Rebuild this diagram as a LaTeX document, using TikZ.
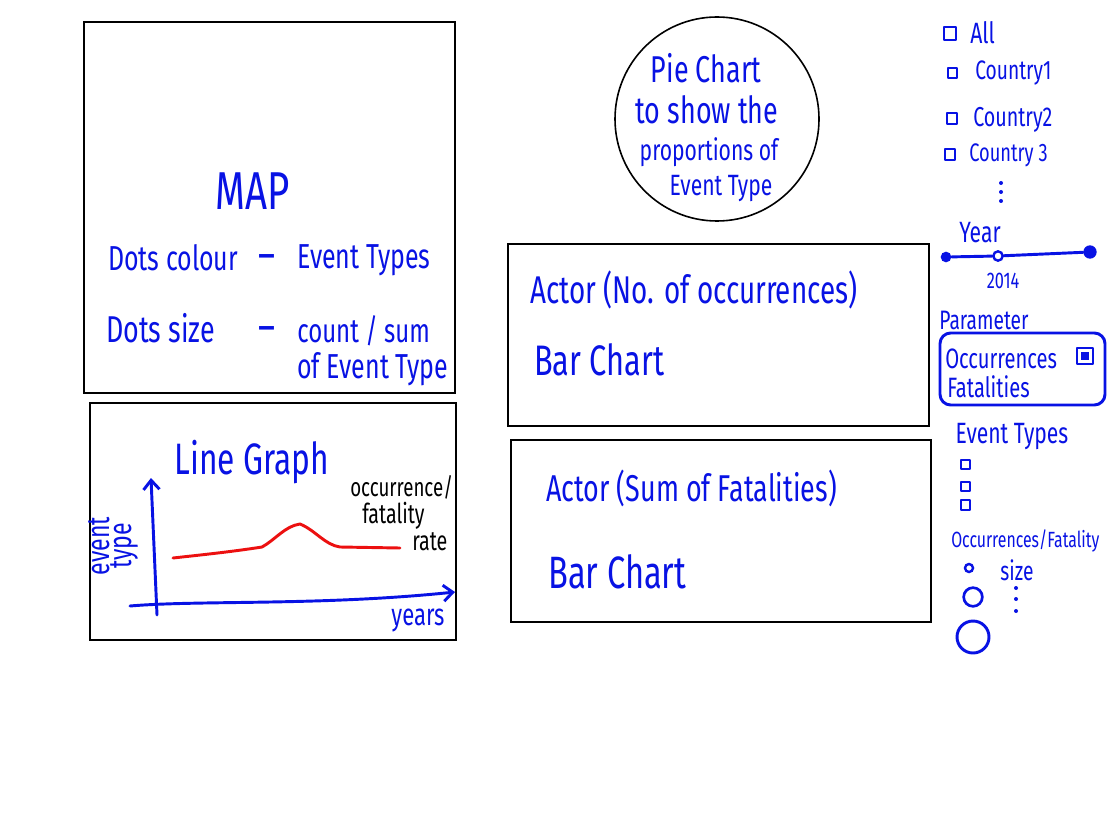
\documentclass[tikz,border=0pt]{standalone}
\usepackage{fontspec}
\setmainfont[FakeStretch=0.72]{Fira Sans}
\usetikzlibrary{arrows.meta}
\definecolor{hblue}{RGB}{8,18,228}
\definecolor{hred}{RGB}{236,16,16}
\tikzset{
  panel/.style={draw=black, line width=1.2pt},
  hw/.style={text=hblue, inner sep=0pt, anchor=center},
  hwl/.style={hw, anchor=west},
  fs/.style={font=\fontsize{#1}{#1}\selectfont},
  pen/.style={draw=hblue, line width=2.2pt, line cap=round, line join=round},
  tick/.style={pen, line width=1.8pt},
}
\begin{document}
\begin{tikzpicture}[x=0.75pt,y=-0.75pt]
\useasboundingbox[fill=white] (0,0) rectangle (1112,834);

% ---- map panel ----
\draw[panel] (84,22) rectangle (455,393);
\node[hw, fs=40] (map) at (253,191) {MAP};
\node[hwl, fs=26] (dc) at (108,258) {Dots colour};
\node[hw, fs=34] (dcdash) at (267,263) {–};
\node[hwl, fs=26] (dct) at (297,260) {Event Types};
\node[hwl, fs=28] (ds) at (106,328) {Dots size};
\node[hw, fs=34] (dsdash) at (267,335) {–};
\node[hwl, fs=25] (dsc) at (297,331) {count / sum};
\node[hwl, fs=26] (dse) at (297,369) {of Event Type};

% ---- line graph panel ----
\draw[panel] (90,403) rectangle (456,640);
\node[hw, fs=33] (lg) at (252,462) {Line Graph};
\coordinate (yb) at (157,615);
\coordinate (yt) at (151,478);
\coordinate (xl) at (130,606);
\coordinate (xr) at (455,592);
\draw[pen, -{Straight Barb[length=7pt,width=12pt]}] (yb) -- (yt);
\draw[pen, -{Straight Barb[length=7pt,width=12pt]}] (xl) .. controls (200,600) and (320,606) .. (xr);
\draw[draw=hred, line width=2.2pt, line cap=round, line join=round]
  (173,558) .. controls (200,555) and (230,552) .. (262,547)
  .. controls (275,540) and (285,526) .. (300,524)
  .. controls (315,530) and (325,545) .. (340,547)
  -- (400,548);
\node[hw, fs=24, rotate=90, align=center, text depth=0pt] (et) at (110,546) {event\\[-8pt]type};
\node[anchor=west, inner sep=0pt, fs=19.5] (occ) at (350,487) {occurrence/};
\node[anchor=west, inner sep=0pt, fs=20.5] (fat) at (362,516) {fatality};
\node[anchor=west, inner sep=0pt, fs=20.5] (rate) at (412,542) {rate};
\node[hw, fs=23] (yr) at (418,620) {years};

% ---- pie chart ----
\node[draw=black, line width=1.2pt, circle, minimum size=153pt, inner sep=0pt] (pie) at (717,119) {};
\node[hw, fs=28] (p1) at (706,68) {Pie Chart};
\node[hw, fs=28] (p2) at (707,110) {to show the};
\node[hw, fs=22] (p3) at (709,152) {proportions of};
\node[hw, fs=22] (p4) at (721,189) {Event Type};

% ---- actor panels ----
\draw[panel] (508,244) rectangle (929,426);
\node[hwl, fs=29] (a1) at (530,290) {Actor (No. of occurrences)};
\node[hwl, fs=32] (b1) at (534,360) {Bar Chart};
\draw[panel] (511,440) rectangle (931,622);
\node[hwl, fs=28] (a2) at (546,488) {Actor (Sum of Fatalities)};
\node[hwl, fs=34] (b2) at (548,572) {Bar Chart};

% ---- country filter ----
\draw[tick] (944,27) rectangle (956,40);
\node[hwl, fs=22] (all) at (970,33) {All};
\draw[tick] (948,68) rectangle (957,78);
\node[hwl, fs=20] (c1) at (975,73) {Country1};
\draw[tick] (947,113) rectangle (957,124);
\node[hwl, fs=20.5] (c2) at (973,120) {Country2};
\draw[tick] (945,149) rectangle (955,160);
\node[hwl, fs=19] (c3) at (969,155) {Country 3};
\foreach \yy in {183,192,201} \fill[hblue] (1001,\yy) circle (1.5pt);

% ---- year slider ----
\node[hw, fs=22] (year) at (980,233) {Year};
\node[fill=hblue, circle, minimum size=8pt, inner sep=0pt] (ys) at (946,257) {};
\node[fill=hblue, circle, minimum size=10pt, inner sep=0pt] (ye) at (1090,252) {};
\node[draw=hblue, line width=1.8pt, circle, minimum size=7pt, inner sep=0pt] (ym) at (998,256) {};
\draw[pen] (ys) -- (ym) -- (ye);
\node[hw, fs=17] (y14) at (1003,281) {2014};

% ---- parameter ----
\node[hw, fs=20] (par) at (984,320) {Parameter};
\draw[pen, rounded corners=8pt] (940,333) rectangle (1105,405);
\node[hwl, fs=21] (po) at (945,359) {Occurrences};
\node[hwl, fs=21] (pf) at (947,387) {Fatalities};
\draw[tick] (1077,348) rectangle (1093,364);
\fill[hblue] (1081,352) rectangle (1089,360);

% ---- event types ----
\node[hw, fs=22] (evt) at (1012,437) {Event Types};
\draw[tick] (961,460) rectangle (970,469);
\draw[tick] (961,482) rectangle (970,491);
\draw[tick] (961,500) rectangle (970,510);

% ---- size legend ----
\node[hwl, fs=16.5] (of) at (951,541) {Occurrences/Fatality};
\node[draw=hblue, line width=1.8pt, circle, minimum size=6pt, inner sep=0pt] (s1) at (969,568) {};
\node[hw, fs=20] (sz) at (1017,570) {size};
\node[draw=hblue, line width=2pt, circle, minimum size=14pt, inner sep=0pt] (s2) at (973,597) {};
\node[draw=hblue, line width=2.2pt, circle, minimum size=24pt, inner sep=0pt] (s3) at (973,637) {};
\foreach \yy in {588,599,611} \fill[hblue] (1016,\yy) circle (1.5pt);
\end{tikzpicture}
\end{document}
